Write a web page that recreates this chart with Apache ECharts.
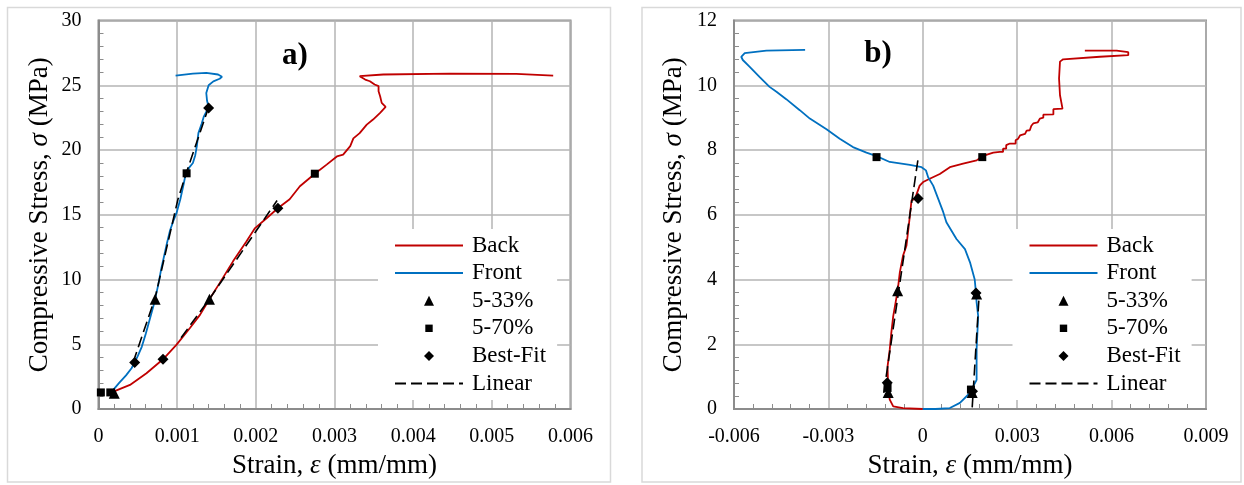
<!DOCTYPE html>
<html>
<head>
<meta charset="utf-8">
<script src="https://cdn.jsdelivr.net/npm/echarts@6/dist/echarts.min.js"></script>
<style>
html,body{margin:0;padding:0;background:#fff;}
#c{width:1244px;height:485px;}
</style>
</head>
<body>
<div id="c"></div>
<script>
// ---------- Data (strain mm/mm, stress MPa) ----------
// Panel a)
const aBack = [[0.00019,1.34],[0.0004,1.86],[0.00061,2.76],[0.00082,3.84],[0.00099,4.95],[0.00116,6.24],[0.00129,7.27],[0.00141,8.48],[0.00154,9.72],[0.00171,11.4],[0.00188,12.94],[0.00199,13.97],[0.00214,14.75],[0.00228,15.5],[0.00243,16.2],[0.00256,17.2],[0.00275,18.17],[0.0029,18.87],[0.00303,19.5],[0.00311,19.64],[0.0032,20.3],[0.00324,20.9],[0.00332,21.3],[0.00341,21.96],[0.00349,22.35],[0.00358,22.87],[0.00365,23.33],[0.0036,23.64],[0.00358,24.15],[0.00356,24.54],[0.00356,24.93],[0.00351,25.06],[0.00345,25.31],[0.00339,25.44],[0.00341,25.58],[0.00332,25.7],[0.00362,25.83],[0.00447,25.9],[0.00531,25.88],[0.00578,25.75]];
const aFront = [[0.00019,1.5],[0.00026,2.0],[0.00035,2.6],[0.00042,3.15],[0.00046,3.6],[0.0005,4.1],[0.00055,4.8],[0.0006,5.8],[0.00065,6.9],[0.0007,8.0],[0.00072,8.5],[0.00076,9.6],[0.0008,10.9],[0.00083,11.7],[0.00087,12.8],[0.00091,13.8],[0.00095,14.5],[0.00099,15.1],[0.00104,16.2],[0.00108,17.3],[0.00111,18.2],[0.00116,18.7],[0.0012,19.0],[0.00123,19.6],[0.00125,20.3],[0.00127,21.3],[0.00131,22.0],[0.00134,22.6],[0.0014,23.3],[0.00138,23.8],[0.00137,24.4],[0.0014,25.0],[0.00146,25.3],[0.00154,25.5],[0.00157,25.65],[0.00152,25.83],[0.00137,25.96],[0.0012,25.9],[0.00098,25.75]];
const aTri = [[0.0002,1.21],[0.00072,8.48],[0.00141,8.48]];
const aSq = [[0.00003,1.28],[0.00015,1.28],[0.00112,18.2],[0.00275,18.17]];
const aDia = [[0.00046,3.6],[0.00082,3.84],[0.0014,23.25],[0.00228,15.5]];
const aLinFront = [[0.00044,3.6],[0.00072,8.6],[0.00101,16.2],[0.00112,18.3],[0.0014,23.3]];
const aLinBack = [[0.00105,5.5],[0.00141,8.5],[0.00227,16.1]];

// Panel b)
const bBack = [[0,0],[-0.00063,0.03],[-0.00094,0.08],[-0.00105,0.29],[-0.0011,0.6],[-0.00112,1.32],[-0.00105,1.84],[-0.001,2.36],[-0.00094,2.87],[-0.0008,3.65],[-0.00073,4.22],[-0.00063,4.73],[-0.00052,5.04],[-0.00047,5.46],[-0.00041,5.97],[-0.00036,6.44],[-0.00025,6.49],[-0.0001,6.9],[0.00001,7.01],[0.00022,7.11],[0.00054,7.26],[0.00086,7.47],[0.00128,7.58],[0.00171,7.68],[0.00189,7.81],[0.00224,7.92],[0.00245,7.94],[0.00255,7.94],[0.00255,8.04],[0.00265,8.04],[0.00265,8.15],[0.00277,8.2],[0.00295,8.2],[0.00295,8.3],[0.00303,8.35],[0.00309,8.45],[0.00325,8.5],[0.0033,8.6],[0.0034,8.61],[0.00345,8.75],[0.00351,8.82],[0.00365,8.85],[0.00372,8.97],[0.00383,9.0],[0.00383,9.09],[0.00415,9.1],[0.00415,9.26],[0.00444,9.28],[0.00436,9.69],[0.00433,10.21],[0.00436,10.73],[0.00446,10.8],[0.00563,10.88],[0.00653,10.93],[0.00653,11.02],[0.00616,11.07],[0.00515,11.07]];
const bFront = [[0,0],[0.0004,0],[0.00086,0.03],[0.00118,0.19],[0.00144,0.44],[0.00155,0.6],[0.00171,0.9],[0.00171,1.84],[0.00176,2.87],[0.00171,3.29],[0.00169,3.58],[0.00165,4.0],[0.0015,4.53],[0.00134,4.94],[0.00107,5.25],[0.00075,5.77],[0.00065,6.08],[0.00049,6.49],[0.00033,6.9],[0.00017,7.16],[0.0001,7.37],[-0.00004,7.47],[-0.00041,7.54],[-0.00105,7.63],[-0.00147,7.81],[-0.00179,7.92],[-0.00222,8.09],[-0.00264,8.35],[-0.00306,8.64],[-0.00359,8.97],[-0.00391,9.23],[-0.00434,9.57],[-0.00465,9.8],[-0.00487,9.95],[-0.00519,10.26],[-0.0055,10.57],[-0.00572,10.78],[-0.00577,10.88],[-0.00566,10.99],[-0.00497,11.07],[-0.00374,11.09]];
const bTri = [[-0.0008,3.65],[0.00171,3.55],[-0.0011,0.51],[0.00157,0.51]];
const bSq = [[-0.00147,7.78],[0.00189,7.78],[-0.00112,0.65],[0.00153,0.6]];
const bDia = [[-0.00015,6.5],[0.00169,3.58],[-0.00113,0.81],[0.00158,0.55]];
const bLinBack = [[-0.00124,0.5],[-0.00015,7.73]];
const bLinFront = [[0.00157,0.05],[0.00179,3.5]];

// Axis settings
const aX = {min:0, max:0.006, interval:0.001};
const aY = {min:0, max:30, interval:5};
const bX = {min:-0.006, max:0.009, interval:0.003};
const bY = {min:0, max:12, interval:2};
const legendNames = ['Back','Front','5-33%','5-70%','Best-Fit','Linear'];

const FONT = "'Liberation Serif','Times New Roman',serif";
const RED = '#c00000', BLUE = '#0070c0';
const TITLE_FS = 27;

function xAxisCfg(grid, s){
  return {
    type:'value', gridIndex:grid, min:s.min, max:s.max, interval:s.interval,
    name:'Strain, {i|ε} (mm/mm)', nameLocation:'middle', nameGap:43,
    nameTextStyle:{fontFamily:FONT,fontSize:TITLE_FS,color:'#000',rich:{i:{fontFamily:FONT,fontSize:TITLE_FS,fontStyle:'italic',color:'#000'}}},
    axisLine:{show:true,onZero:false,lineStyle:{color:'#8c8c8c',width:2}},
    axisTick:{show:false,inside:true},
    minorTick:{show:true,splitNumber:5,length:5,lineStyle:{color:'#8c8c8c',width:1}},
    splitLine:{show:true,lineStyle:{color:'#b4b4b4',width:1.5}},
    axisLabel:{fontFamily:FONT,fontSize:20,color:'#000',margin:18,
      formatter:v=>String(+v.toFixed(4))}
  };
}
function yAxisCfg(grid, s, gap){
  return {
    type:'value', gridIndex:grid, min:s.min, max:s.max, interval:s.interval,
    name:'Compressive Stress, {i|σ} (MPa)', nameLocation:'middle', nameGap:gap,
    nameTextStyle:{fontFamily:FONT,fontSize:TITLE_FS,color:'#000',rich:{i:{fontFamily:FONT,fontSize:TITLE_FS,fontStyle:'italic',color:'#000'}}},
    axisLine:{show:true,onZero:false,lineStyle:{color:'#8c8c8c',width:2}},
    axisTick:{show:false,inside:true},
    minorTick:{show:true,splitNumber:5,length:5,lineStyle:{color:'#8c8c8c',width:1}},
    splitLine:{show:true,lineStyle:{color:'#b4b4b4',width:1.5}},
    axisLabel:{fontFamily:FONT,fontSize:20,color:'#000',margin:17}
  };
}
function lineSeries(name, data, color, idx, dashed){
  return {
    name, type:'line', data, xAxisIndex:idx, yAxisIndex:idx, symbol:'none',
    smooth:false, animation:false, z: dashed?4:3,
    lineStyle:{color, width: dashed?1.6:1.8, type: dashed?[11,5]:'solid'},
    itemStyle:{color}
  };
}
function scatterSeries(name, data, symbol, size, idx){
  return {
    name, type:'scatter', data, xAxisIndex:idx, yAxisIndex:idx, symbol, symbolSize:size,
    animation:false, z:5, itemStyle:{color:'#000', opacity:1}
  };
}
const hideSym = {color:'rgba(0,0,0,0)', borderColor:'rgba(0,0,0,0)', borderWidth:0, opacity:0};
function legendCfg(left){
  return {
    orient:'vertical', left, top:229, backgroundColor:'#fff',
    padding:[5,11,5,16], itemWidth:68, itemHeight:10, itemGap:4.6,
    selectedMode:false,
    textStyle:{fontFamily:FONT,fontSize:23,color:'#000',lineHeight:23,padding:[0,0,0,4]},
    data:[
      {name:'Back', itemStyle:hideSym},{name:'Front', itemStyle:hideSym},
      {name:'5-33%', icon:'path://M5,0L10,10L0,10Z', itemStyle:{color:'#000',opacity:1}},
      {name:'5-70%', icon:'path://M0,0L0,0M10,10L10,10M1.3,1.3L8.7,1.3L8.7,8.7L1.3,8.7Z', itemStyle:{color:'#000',opacity:1}},
      {name:'Best-Fit', icon:'path://M5,-0.5L10.5,5L5,10.5L-0.5,5Z', itemStyle:{color:'#000',opacity:1}},
      {name:'Linear', itemStyle:hideSym}
    ]
  };
}

const chart = echarts.init(document.getElementById('c'), null, {renderer:'canvas'});
chart.setOption({
  backgroundColor:'#fff',
  animation:false,
  grid:[
    {left:98.5, top:20.5, width:472, height:388.5, show:true, borderColor:'#8c8c8c', borderWidth:2, containLabel:false},
    {left:734, top:20.5, width:472, height:388.5, show:true, borderColor:'#8c8c8c', borderWidth:2, containLabel:false}
  ],
  xAxis:[xAxisCfg(0,aX), xAxisCfg(1,bX)],
  yAxis:[yAxisCfg(0,aY,45.5), yAxisCfg(1,bY,47)],
  legend:[legendCfg(378), legendCfg(1012.5)],
  graphic:[
    {type:'rect', silent:true, z:-10, shape:{x:7.5,y:7.5,width:603,height:474.5}, style:{fill:'none',stroke:'#d9d9d9',lineWidth:1.5}},
    {type:'rect', silent:true, z:-10, shape:{x:642,y:7.5,width:599,height:474.5}, style:{fill:'none',stroke:'#d9d9d9',lineWidth:1.5}},
    {type:'text', z:10, style:{x:295,y:56,text:'a)',align:'center',verticalAlign:'middle',font:"bold 31px 'Liberation Serif','Times New Roman',serif",fill:'#000'}},
    {type:'text', z:10, style:{x:878,y:54,text:'b)',align:'center',verticalAlign:'middle',font:"bold 31px 'Liberation Serif','Times New Roman',serif",fill:'#000'}}
  ],
  series:[
    lineSeries('Back', aBack, RED, 0, false),
    lineSeries('Front', aFront, BLUE, 0, false),
    lineSeries('Linear', aLinFront, '#000', 0, true),
    lineSeries('Linear', aLinBack, '#000', 0, true),
    scatterSeries('5-33%', aTri, 'triangle', 11, 0),
    scatterSeries('5-70%', aSq, 'rect', 8, 0),
    scatterSeries('Best-Fit', aDia, 'diamond', 11, 0),
    lineSeries('Back', bBack, RED, 1, false),
    lineSeries('Front', bFront, BLUE, 1, false),
    lineSeries('Linear', bLinBack, '#000', 1, true),
    lineSeries('Linear', bLinFront, '#000', 1, true),
    scatterSeries('5-33%', bTri, 'triangle', 11, 1),
    scatterSeries('5-70%', bSq, 'rect', 8, 1),
    scatterSeries('Best-Fit', bDia, 'diamond', 11, 1)
  ]
});
</script>
</body>
</html>
